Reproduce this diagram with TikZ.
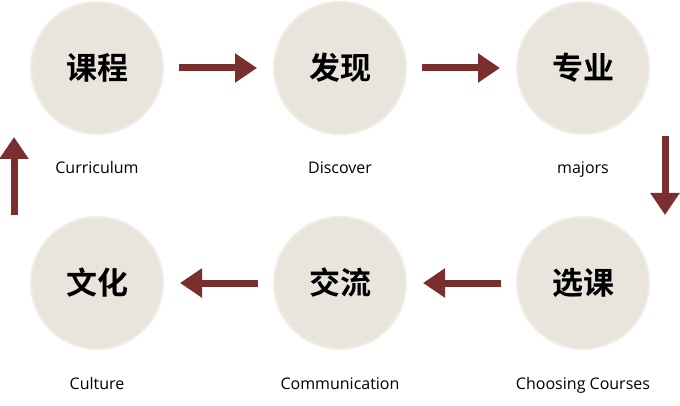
\documentclass[tikz,border=0pt]{standalone}
\usepackage{fontspec}
\setmainfont{Open Sans}
\newfontfamily\cjk{Noto Sans CJK SC Bold}
\usetikzlibrary{arrows.meta}
\definecolor{circfill}{HTML}{E9E5DC}
\definecolor{arrowred}{HTML}{7B2E2E}
\tikzset{
  stage/.style={circle, minimum size=132pt, inner sep=0pt, fill=circfill,
    draw=circfill!70!white, line width=2pt, font=\cjk\fontsize{31}{31}\selectfont},
  caption/.style={anchor=base, font=\fontsize{16}{16}\selectfont},
  flow/.style={arrowred, line width=7pt, -{Triangle[width=28pt,length=22pt]}}
}
\begin{document}
\begin{tikzpicture}[x=1pt,y=-1pt]
      \useasboundingbox (0,0) rectangle (680,406);
      \draw
        (97,68) node[stage] (kc){课程}
        (340,68) node[stage] (fx){发现}
        (583,68) node[stage] (zy){专业}
        (583,283) node[stage] (xk){选课}
        (340,283) node[stage] (jl){交流}
        (97,283) node[stage] (wh){文化};
      \draw
        (97,174) node[caption] (kclabel){Curriculum}
        (340,174) node[caption] (fxlabel){Discover}
        (583,174) node[caption] (zylabel){majors}
        (583,389) node[caption] (xklabel){Choosing Courses}
        (340,389) node[caption] (jllabel){Communication}
        (97,389) node[caption] (whlabel){Culture};
      \coordinate (upstart) at (14,215);
      \coordinate (upend) at (14,137);
      \coordinate (downstart) at (665,136);
      \coordinate (downend) at (665,215);
      \begin{scope}[flow]
        \draw[shorten <=15pt, shorten >=16pt] (kc) to (fx);
        \draw[shorten <=15pt, shorten >=16pt] (fx) to (zy);
        \draw (downstart) to (downend);
        \draw[shorten <=15pt, shorten >=16pt] (xk) to (jl);
        \draw[shorten <=15pt, shorten >=16pt] (jl) to (wh);
        \draw (upstart) to (upend);
      \end{scope}
    \end{tikzpicture}
\end{document}
